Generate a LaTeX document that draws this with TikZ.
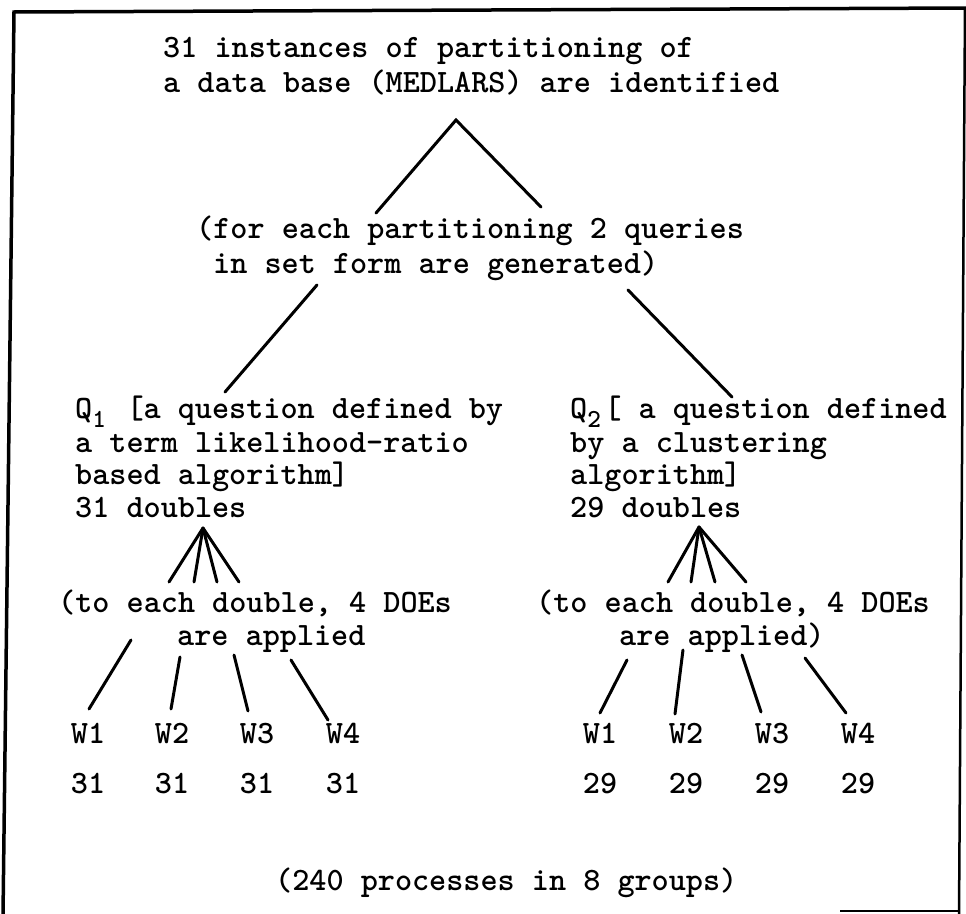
\documentclass[tikz,border=0pt]{standalone}
\newcommand\lowsub[1]{\makebox[17.1pt][l]{\raisebox{-9pt}{\fontsize{26}{30}\selectfont #1}}}
\begin{document}
\begin{tikzpicture}[x=1pt,y=-1pt,
  txt/.style={anchor=base west, inner sep=0pt, font=\ttfamily\bfseries\fontsize{32.6}{38}\selectfont},
  lab/.style={anchor=base, inner sep=0pt, font=\ttfamily\bfseries\fontsize{32.6}{38}\selectfont},
  edge/.style={line width=3pt, line cap=round},
  frame/.style={line width=3pt}]
\useasboundingbox (0,0) rectangle (966,913);
% frame
\draw[frame, line width=3.5pt] (3,916) -- (14,12) -- (968,8);
\draw[frame, line width=2.5pt] (965,8) -- (959,916);
\draw[frame, line width=2.5pt] (840,911) -- (960,911);
% top text
\node[txt] (a1) at (163,57) {31 instances of partitioning of};
\node[txt] (a2) at (163,92) {a data base (MEDLARS) are identified};
\node[txt] (b1) at (196,238) {(for each partitioning 2 queries};
\node[txt] (b2) at (213,273) {in set form are generated)};
% query blocks
\node[txt] (q1a) at (75,418) {Q\lowsub{1} [a question defined by};
\node[txt] (q1b) at (75,452) {a term likelihood-ratio};
\node[txt] (q1c) at (75,484) {based algorithm]};
\node[txt] (q1d) at (75,517) {31 doubles};
\node[txt] (q2a) at (570,418) {Q\lowsub{2}[ a question defined};
\node[txt] (q2b) at (570,452) {by a clustering};
\node[txt] (q2c) at (570,484) {algorithm]};
\node[txt] (q2d) at (570,517) {29 doubles};
% DOE text
\node[txt] (d1a) at (58,612) {(to each double, 4 DOEs};
\node[txt] (d1b) at (177,645) {are applied};
\node[txt] (d2a) at (536,612) {(to each double, 4 DOEs};
\node[txt] (d2b) at (619,645) {are applied)};
% W labels and counts
\foreach \x/\w/\n [count=\i] in {88/W1/31,172/W2/31,257/W3/31,343/W4/31}{
  \node[lab] (lw\i) at (\x,743) {\w};
  \node[lab] (ln\i) at (\x,793) {\n};
}
\foreach \x/\w/\n [count=\i] in {600/W1/29,686/W2/29,772/W3/29,858/W4/29}{
  \node[lab] (rw\i) at (\x,743) {\w};
  \node[lab] (rn\i) at (\x,793) {\n};
}
\node[txt] (tot) at (275,890) {(240 processes in 8 groups)};
% connector end points
\coordinate (tA) at (456,120);
\coordinate (tL) at (376,213);
\coordinate (tR) at (541,207);
\coordinate (mL1) at (317,285);
\coordinate (mL2) at (225,392);
\coordinate (mR1) at (628,290);
\coordinate (mR2) at (732,397);
\coordinate (fL) at (203,528);
\coordinate (fR) at (699,527);
% connectors
\draw[edge] (tL) -- (tA) -- (tR);
\draw[edge] (mL1) -- (mL2);
\draw[edge] (mR1) -- (mR2);
\foreach \x [count=\i] in {169,194,217,239}{
  \coordinate (fl\i) at (\x,582);
  \draw[edge] (fL) -- (fl\i);
}
\foreach \x [count=\i] in {668,691,715,746}{
  \coordinate (fr\i) at (\x,582);
  \draw[edge] (fR) -- (fr\i);
}
\foreach \a/\b/\c/\d [count=\i] in {131/640/89/709,180/657/171/709,234/655/248/711,291/660/328/720}{
  \coordinate (gls\i) at (\a,\b);
  \coordinate (gle\i) at (\c,\d);
  \draw[edge] (gls\i) -- (gle\i);
}
\foreach \a/\b/\c/\d [count=\i] in {627/660/600/713,683/650/675/714,742/655/761/712,805/658/846/713}{
  \coordinate (grs\i) at (\a,\b);
  \coordinate (gre\i) at (\c,\d);
  \draw[edge] (grs\i) -- (gre\i);
}
\end{tikzpicture}
\end{document}
